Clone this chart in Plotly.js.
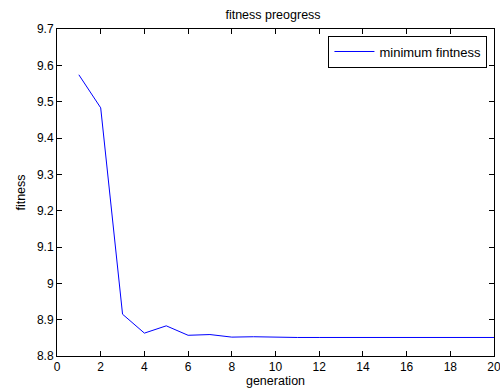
<!DOCTYPE html>
<html>
<head>
<meta charset="utf-8">
<script src="https://cdn.plot.ly/plotly-3.0.1.min.js"></script>
<style>html,body{margin:0;padding:0;background:#fff;}#chart{width:500px;height:392px;}</style>
</head>
<body>
<div id="chart"></div>
<script>
const generations = [1,2,3,4,5,6,7,8,9,10,11,12,13,14,15,16,17,18,19,20];
const minFitness = [9.574,9.483,8.915,8.863,8.883,8.857,8.859,8.852,8.853,8.851,8.851,8.851,8.851,8.851,8.851,8.851,8.851,8.851,8.851,8.851];
const xTicks = [0,2,4,6,8,10,12,14,16,18,20];
const yTicks = [8.8,8.9,9,9.1,9.2,9.3,9.4,9.5,9.6,9.7];

const fam = 'Liberation Sans, Arial, sans-serif';
const axisCommon = {
  showgrid: false, zeroline: false, showline: true, linecolor: '#000', linewidth: 1,
  mirror: 'ticks', ticks: 'inside', ticklen: 5, tickcolor: '#000', tickwidth: 1,
  ticklabeloverflow: 'allow',
  tickfont: {family: fam, size: 12, color: '#000'}
};
Plotly.newPlot('chart', [{
  x: generations, y: minFitness, type: 'scatter', mode: 'lines',
  name: 'minimum fintness', line: {color: '#0000ff', width: 1}
}], {
  width: 500, height: 392,
  margin: {l: 57, r: 6, t: 29, b: 36},
  paper_bgcolor: '#fff', plot_bgcolor: '#fff',
  font: {family: fam, size: 12, color: '#000'},
  title: {text: 'fitness preogress', font: {family: fam, size: 12.5, color: '#000'}, x: 0.546, xanchor: 'center', y: 0.975, yanchor: 'top'},
  xaxis: Object.assign({}, axisCommon, {range: [0, 20], tickvals: xTicks, ticktext: xTicks.map(String),
    title: {text: 'generation', font: {family: fam, size: 12.5, color: '#000'}, standoff: 1}}),
  yaxis: Object.assign({}, axisCommon, {range: [8.8, 9.7], tickvals: yTicks, ticktext: yTicks.map(String),
    title: {text: 'fitness', font: {family: fam, size: 12.5, color: '#000'}, standoff: 8}}),
  showlegend: true,
  legend: {x: 0.985, y: 0.98, xanchor: 'right', yanchor: 'top', bordercolor: '#000', borderwidth: 1,
    bgcolor: '#fff', itemwidth: 40, font: {family: fam, size: 13, color: '#000'}}
}, {displayModeBar: false, staticPlot: true});
</script>
</body>
</html>
